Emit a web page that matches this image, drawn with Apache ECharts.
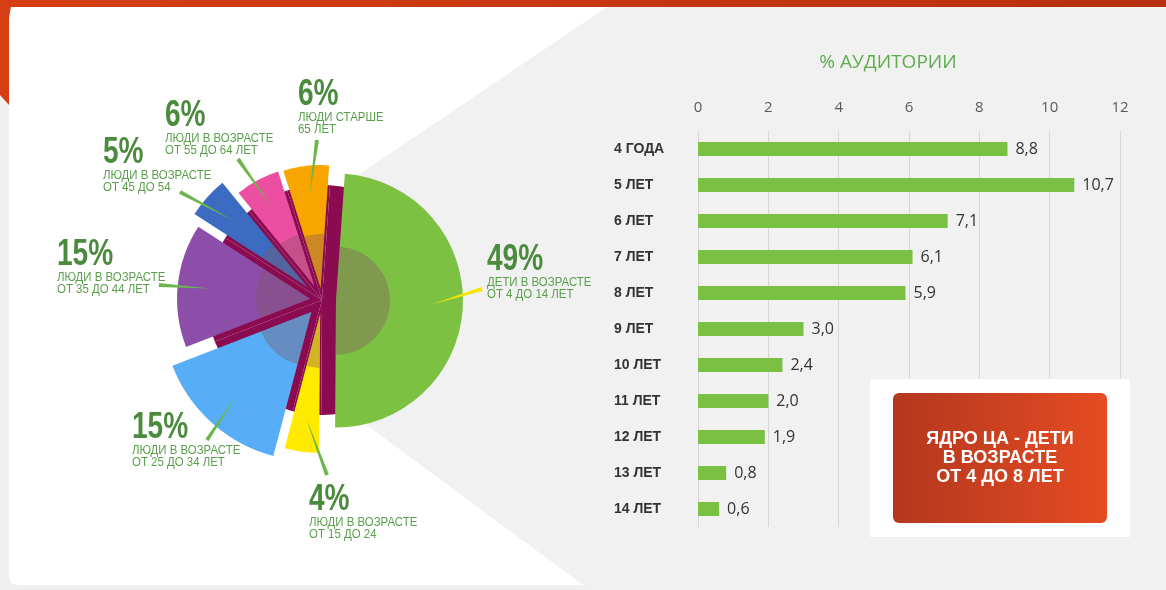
<!DOCTYPE html>
<html>
<head>
<meta charset="utf-8">
<script src="https://cdn.jsdelivr.net/npm/echarts@6/dist/echarts.min.js"></script>
<style>
  html, body { margin: 0; padding: 0; background: #f0f0f0; }
  #main { width: 1166px; height: 590px; }
</style>
</head>
<body>
<div id="main"></div>
<script>
// аудитория по возрастным группам, %
const groups = [
  'ДЕТИ В ВОЗРАСТЕ\nОТ 4 ДО 14 ЛЕТ',
  'ЛЮДИ В ВОЗРАСТЕ\nОТ 15 ДО 24',
  'ЛЮДИ В ВОЗРАСТЕ\nОТ 25 ДО 34 ЛЕТ',
  'ЛЮДИ В ВОЗРАСТЕ\nОТ 35 ДО 44 ЛЕТ',
  'ЛЮДИ В ВОЗРАСТЕ\nОТ 45 ДО 54',
  'ЛЮДИ В ВОЗРАСТЕ\nОТ 55 ДО 64 ЛЕТ',
  'ЛЮДИ СТАРШЕ\n65 ЛЕТ'
]
const shares = [49, 4, 15, 15, 5, 6, 6]

// детская аудитория по возрасту, %
const ages = ['4 ГОДА', '5 ЛЕТ', '6 ЛЕТ', '7 ЛЕТ', '8 ЛЕТ', '9 ЛЕТ', '10 ЛЕТ', '11 ЛЕТ', '12 ЛЕТ', '13 ЛЕТ', '14 ЛЕТ']
const ageShares = [8.8, 10.7, 7.1, 6.1, 5.9, 3.0, 2.4, 2.0, 1.9, 0.8, 0.6]
const xTicks = [0, 2, 4, 6, 8, 10, 12]

// оформление круга
const center = [322, 300]
const startAngle = 86
const sliceColors = ['#7dc142', '#ffea00', '#57adf6', '#8d4ea9', '#3b6cc1', '#ec4ea1', '#f8a500']
const sliceRadius = [127, 139, 149, 133, 134, 120, 123]
const sliceOffset = [14, 14, 16, 12, 20, 16, 12]
// подпись: левый край, верх цифр; внешний конец выноски
const labelSpots = [
  [487, 247, 482, 289],
  [309, 487, 327, 475],
  [132, 415, 207, 440],
  [57, 242, 159, 285],
  [103, 140, 180, 192],
  [165, 103, 238, 159],
  [298, 82, 317, 140]
]

const chart = echarts.init(document.getElementById('main'))

const total = shares.reduce((a, b) => a + b, 0)
const midAngle = shares.map((v, i) => {
  const before = shares.slice(0, i).reduce((a, b) => a + b, 0)
  return (90 - startAngle) * Math.PI / 180 + (before + v / 2) / total * Math.PI * 2
})

function sliceData(i, color) {
  return shares.map((v, j) => ({
    name: groups[j],
    value: v,
    selected: j === i,
    itemStyle: { color: j === i ? color : 'rgba(0,0,0,0)' }
  }))
}

const pieBase = {
  type: 'pie',
  center: center,
  startAngle: startAngle,
  clockwise: true,
  silent: true,
  animation: false,
  selectedMode: 'single',
  emphasis: { disabled: true },
  itemStyle: { borderWidth: 0 },
  label: { show: false },
  labelLine: { show: false }
}

const series = [{
  ...pieBase,
  z: 1,
  radius: [0, 115],
  selectedMode: false,
  data: shares.map((v, j) => ({ name: groups[j], value: v, itemStyle: { color: '#8a0b4f' } }))
}]

shares.forEach((v, i) => {
  series.push({
    ...pieBase,
    z: 3,
    radius: [0, sliceRadius[i]],
    selectedOffset: sliceOffset[i],
    data: sliceData(i, sliceColors[i])
  })
  // полупрозрачная середина
  series.push({
    ...pieBase,
    z: 4,
    radius: [0, 54],
    selectedOffset: sliceOffset[i],
    data: sliceData(i, 'rgba(130,85,100,0.36)')
  })
})

series.push({
  type: 'bar',
  data: ageShares,
  barWidth: 14,
  animation: false,
  itemStyle: { color: '#7ac143' },
  label: {
    show: true,
    position: 'right',
    distance: 8,
    color: '#333',
    fontSize: 16,
    fontFamily: '"Open Sans", sans-serif',
    formatter: (p) => p.value.toFixed(1).replace('.', ',')
  }
})

// подписи круга и выноски
const labelGraphics = []
shares.forEach((v, i) => {
  const s = labelSpots[i]
  const rho = (sliceRadius[i] + sliceOffset[i]) * 0.78
  const tip = [center[0] + rho * Math.sin(midAngle[i]), center[1] - rho * Math.cos(midAngle[i])]
  const len = Math.hypot(tip[0] - s[2], tip[1] - s[3])
  const nx = -(tip[1] - s[3]) / len * 2
  const ny = (tip[0] - s[2]) / len * 2
  labelGraphics.push({
    type: 'polygon', z: 20,
    shape: { points: [[s[2] + nx, s[3] + ny], [s[2] - nx, s[3] - ny], tip] },
    style: { fill: i === 0 ? '#f5e500' : '#6cb64c' }
  })
  labelGraphics.push({
    type: 'text', z: 20, x: s[0], y: s[1] - 5, scaleX: 0.78,
    style: {
      text: v + '%', fill: '#4b8b3d', align: 'left', verticalAlign: 'top',
      font: 'bold 36px "Liberation Sans", sans-serif'
    }
  })
  labelGraphics.push({
    type: 'text', z: 20, x: s[0], y: s[1] + 29, scaleX: 0.88,
    style: {
      text: groups[i], fill: '#5a9e4b', align: 'left', verticalAlign: 'top',
      font: '13px "Liberation Sans", sans-serif', lineHeight: 12
    }
  })
})

const option = {
  backgroundColor: '#f0f0f0',
  title: {
    text: '% АУДИТОРИИ',
    left: 883,
    top: 48,
    textAlign: 'center',
    textStyle: { color: '#5cad4e', fontSize: 19, fontWeight: 'normal', fontFamily: '"Open Sans", sans-serif' }
  },
  grid: { left: 698, right: 46, top: 131, bottom: 63 },
  xAxis: {
    type: 'value',
    position: 'top',
    min: xTicks[0],
    max: xTicks[xTicks.length - 1],
    interval: xTicks[1] - xTicks[0],
    axisLine: { show: false },
    axisTick: { show: false },
    axisLabel: { color: '#5a5a5a', fontSize: 15, margin: 16, fontFamily: '"Open Sans", sans-serif' },
    splitLine: { lineStyle: { color: '#d6d6d6' } }
  },
  yAxis: {
    type: 'category',
    inverse: true,
    data: ages,
    axisLine: { show: false },
    axisTick: { show: false },
    axisLabel: {
      align: 'left', margin: 84, color: '#333', fontSize: 14, fontWeight: 'bold',
      fontFamily: '"Liberation Sans", sans-serif'
    }
  },
  graphic: {
    elements: [
      { type: 'rect', z: -10, shape: { x: 9, y: 5, width: 1160, height: 580, r: [12, 0, 0, 8] }, style: { fill: '#ffffff' } },
      {
        type: 'polygon', z: -9,
        shape: { points: [[330, 194], [610, 5], [1166, 5], [1166, 590], [590, 590], [330, 398]] },
        style: { fill: '#f1f1f1' }
      },
      {
        type: 'rect', z: -8, shape: { x: 0, y: 0, width: 1166, height: 7 },
        style: { fill: new echarts.graphic.LinearGradient(0, 0, 1, 0, [{ offset: 0, color: '#d63f14' }, { offset: 1, color: '#b8300f' }]) }
      },
      { type: 'polygon', z: -8, shape: { points: [[0, 0], [12, 0], [9, 18], [9, 105], [0, 95]] }, style: { fill: '#d63f14' } },
      { type: 'rect', z: 10, shape: { x: 870, y: 379, width: 260, height: 158 }, style: { fill: '#ffffff' } },
      {
        type: 'rect', z: 11, shape: { x: 893, y: 393, width: 214, height: 130, r: 6 },
        style: { fill: new echarts.graphic.LinearGradient(0, 0, 1, 0, [{ offset: 0, color: '#b3371e' }, { offset: 1, color: '#e54c22' }]) }
      },
      {
        type: 'text', z: 12,
        style: {
          text: 'ЯДРО ЦА - ДЕТИ\nВ ВОЗРАСТЕ\nОТ 4 ДО 8 ЛЕТ',
          x: 1000, y: 458, align: 'center', verticalAlign: 'middle',
          fill: '#ffffff', font: 'bold 18px "Liberation Sans", sans-serif', lineHeight: 19
        }
      }
    ].concat(labelGraphics)
  },
  series: series
}

option && chart.setOption(option)
</script>
</body>
</html>
